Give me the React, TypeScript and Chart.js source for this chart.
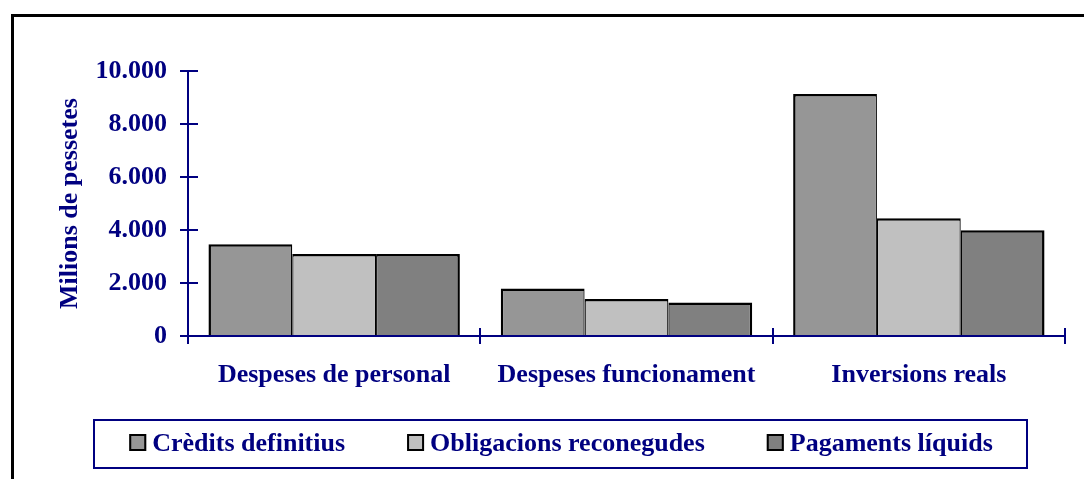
import React, { useEffect, useRef } from "react";
import { Chart, registerables } from "chart.js";

Chart.register(...registerables);

const categories = ["Despeses de personal", "Despeses funcionament", "Inversions reals"];
const seriesNames = ["Crèdits definitius", "Obligacions reconegudes", "Pagaments líquids"];
const creditsDefinitius = [3460, 1790, 9130];
const obligacionsReconegudes = [3090, 1400, 4440];
const pagamentsLiquids = [3090, 1260, 3990];
const seriesColors = ["#969696", "#c0c0c0", "#808080"];
const yTicks = { min: 0, max: 10000, step: 2000 };

const NAVY = "#000080";
const FONT = "'Liberation Serif', 'Times New Roman', serif";

function fmt(v: number): string {
  return String(Math.round(v)).replace(/\B(?=(\d{3})+(?!\d))/g, ".");
}

const framePlugin = {
  id: "frame",
  beforeDraw(chart: any) {
    const ctx = chart.ctx;
    ctx.save();
    ctx.fillStyle = "#ffffff";
    ctx.fillRect(0, 0, chart.width, chart.height);
    ctx.fillStyle = "#000000";
    ctx.fillRect(11, 14, chart.width - 11, 3);
    ctx.fillRect(11, 14, 3, chart.height - 14);
    ctx.restore();
  },
};

const innerTicksPlugin = {
  id: "innerTicks",
  afterDraw(chart: any) {
    const ctx = chart.ctx;
    const y = chart.scales.y;
    const x = chart.scales.x;
    const area = chart.chartArea;
    ctx.save();
    ctx.strokeStyle = NAVY;
    ctx.lineWidth = 2;
    ctx.beginPath();
    y.ticks.forEach((t: any) => {
      const py = Math.round(y.getPixelForValue(t.value));
      ctx.moveTo(area.left, py);
      ctx.lineTo(area.left + 10, py);
    });
    const n = categories.length;
    for (let i = 0; i <= n; i++) {
      const px = Math.round(x.left + ((x.right - x.left) * i) / n);
      ctx.moveTo(px, area.bottom);
      ctx.lineTo(px, area.bottom - 8);
    }
    ctx.stroke();
    ctx.restore();
  },
};

const legendBoxPlugin = {
  id: "legendBox",
  afterDraw(chart: any) {
    const ctx = chart.ctx;
    ctx.save();
    ctx.font = `bold 26px ${FONT}`;
    const box = 17;
    const gapText = 6;
    const gapItem = 62;
    const widths = seriesNames.map((s) => ctx.measureText(s).width);
    const total = widths.reduce((a, w) => a + box + gapText + w, 0) + gapItem * (seriesNames.length - 1);
    const cx = 561;
    let xPos = cx - total / 2;
    const baseline = 451;
    ctx.strokeStyle = NAVY;
    ctx.lineWidth = 2;
    ctx.strokeRect(94, 420, 933, 48);
    seriesNames.forEach((s, i) => {
      ctx.fillStyle = seriesColors[i];
      ctx.fillRect(xPos, baseline - box, box, box);
      ctx.strokeStyle = "#000000";
      ctx.lineWidth = 2;
      ctx.strokeRect(xPos + 1, baseline - box + 1, box - 2, box - 2);
      ctx.fillStyle = NAVY;
      ctx.textBaseline = "alphabetic";
      ctx.textAlign = "left";
      ctx.fillText(s, xPos + box + gapText, baseline);
      xPos += box + gapText + widths[i] + gapItem;
    });
    ctx.restore();
  },
};

export default function App() {
  const ref = useRef<HTMLCanvasElement | null>(null);
  useEffect(() => {
    if (!ref.current) return;
    const values = [creditsDefinitius, obligacionsReconegudes, pagamentsLiquids];
    const borders = [
      { top: 2.5, left: 2.5, right: 1.25, bottom: 0 },
      { top: 2.5, left: 1.25, right: 1.25, bottom: 0 },
      { top: 2.5, left: 1.25, right: 2.5, bottom: 0 },
    ];
    const chart = new Chart(ref.current, {
      type: "bar",
      data: {
        labels: categories,
        datasets: seriesNames.map((name, i) => ({
          label: name,
          data: values[i],
          backgroundColor: seriesColors[i],
          borderColor: "#000000",
          borderWidth: borders[i] as any,
          borderSkipped: "start" as any,
          barPercentage: 1,
          categoryPercentage: 0.86,
          inflateAmount: 0,
        })),
      },
      options: {
        responsive: false,
        animation: false,
        events: [],
        layout: { padding: { left: 49, top: 71, right: 19, bottom: 88 } },
        plugins: {
          legend: { display: false },
          tooltip: { enabled: false },
        },
        scales: {
          x: {
            afterFit(scale: any) {
              scale.height = 55;
            },
            grid: {
              display: true,
              drawOnChartArea: false,
              drawTicks: true,
              tickLength: 8,
              color: NAVY,
              lineWidth: 2,
              offset: true,
            },
            border: { display: true, color: NAVY, width: 2, z: 1 },
            ticks: {
              color: NAVY,
              padding: 16,
              font: { family: FONT, size: 26, weight: "bold" },
              maxRotation: 0,
              autoSkip: false,
            },
          },
          y: {
            min: yTicks.min,
            max: yTicks.max,
            afterFit(scale: any) {
              scale.width = 139;
            },
            grid: {
              display: true,
              drawOnChartArea: false,
              drawTicks: true,
              tickLength: 8,
              color: NAVY,
              lineWidth: 2,
            },
            border: { display: true, color: NAVY, width: 2, z: 1 },
            ticks: {
              stepSize: yTicks.step,
              color: NAVY,
              padding: 13,
              font: { family: FONT, size: 26, weight: "bold" },
              callback: (v: any) => fmt(Number(v)),
            },
            title: {
              display: true,
              text: "Milions de pessetes",
              color: NAVY,
              font: { family: FONT, size: 26, weight: "bold" },
              padding: { top: 6, bottom: 0 },
            },
          },
        },
      },
      plugins: [framePlugin, innerTicksPlugin, legendBoxPlugin],
    });
    return () => chart.destroy();
  }, []);
  return (
    <div style={{ position: "absolute", left: 0, top: 0, width: 1084, height: 479 }}>
      <canvas ref={ref} width={1084} height={479} />
    </div>
  );
}
